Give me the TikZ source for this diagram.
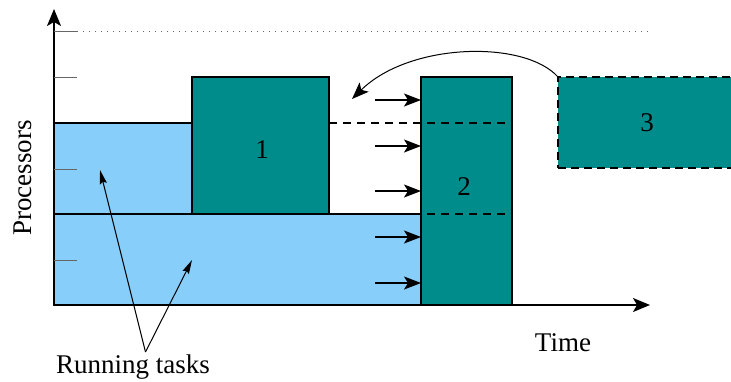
\documentclass[tikz,border=0pt]{standalone}
\usepackage{fontspec}
\setmainfont{Liberation Serif}
\usetikzlibrary{arrows.meta}
\definecolor{tealbox}{RGB}{0,140,138}
\definecolor{runblue}{RGB}{135,206,250}
\begin{document}
\begin{tikzpicture}[x=1pt,y=-1pt, font=\fontsize{27}{32}\selectfont,
  box/.style={draw, line width=1.2pt, fill=tealbox, inner sep=0pt, outer sep=0pt, anchor=north west},
  run/.style={draw, line width=1.2pt, fill=runblue, inner sep=0pt, outer sep=0pt, anchor=north west},
  axisarrow/.style={line width=1.5pt, -{Stealth[length=17pt,width=14pt,inset=4pt]}},
  push/.style={line width=1.2pt, -{Stealth[length=17pt,width=13pt,inset=4pt]}},
  ptr/.style={line width=1pt, -{Stealth[length=14pt,width=7pt,inset=2pt]}},
  tickmark/.style={black!60, line width=1pt},
  levelline/.style={line width=1.2pt, dash pattern=on 8pt off 6pt},
  toplevel/.style={black!60, line width=1pt, dash pattern=on 1.2pt off 4.8pt}]
\useasboundingbox (0,0) rectangle (731,381);
\clip (0,0) rectangle (731,381);
% running tasks
\node[run, minimum width=138pt, minimum height=91pt] (r1) at (54,123) {};
\node[run, minimum width=367pt, minimum height=91pt] (r2) at (54,214) {};
% tasks
\node[box, minimum width=137pt, minimum height=137pt] (t1) at (192,77) {};
\node[box, minimum width=91pt, minimum height=228pt] (t2) at (421,77) {};
\node[box, dash pattern=on 8pt off 5pt, minimum width=190pt, minimum height=91pt] (t3) at (558,77) {};
\node (n1) at (262,150) {1};
\node (n2) at (464,187) {2};
\node (n3) at (647,123) {3};
% level lines
\draw[levelline] (t1.north east |- r1.north) -- (t2.north east |- r1.north);
\draw[levelline] (t1.south east) -- (t2.north east |- t1.south east);
% push arrows
\foreach \yy/\nm in {100/a,146/b,191/c,237/d,283/e}{
  \coordinate (s\nm) at (375,\yy);
  \draw[push] (s\nm) -- (t2.west |- s\nm);
}
% axes
\coordinate (o) at (54,305);
\coordinate (ytop) at (54,9);
\coordinate (xend) at (650,305);
\draw[axisarrow] (o) -- (ytop);
\draw[axisarrow] (o) -- (xend);
\foreach \yy in {31,77,169,260}{
  \draw[tickmark] (54,\yy) -- (77,\yy);
}
\coordinate (dl) at (77,31);
\coordinate (dr) at (650,31);
\draw[toplevel] (dl) -- (dr);
% move arrow
\coordinate (mv) at (352,99);
\draw[line width=1pt, -{Stealth[length=17pt,width=13pt,inset=4pt]}] (t3.north west) .. controls (525,40) and (410,42) .. (mv);
% labels
\node[rotate=90] (ylab) at (23,178) {Processors};
\node (xlab) at (563,343) {Time};
\node (rt) at (133,367) {Running tasks};
\coordinate (apex) at (145.5,352);
\coordinate (p1) at (100,170);
\coordinate (p2) at (192,260);
\draw[ptr] (apex) -- (p1);
\draw[ptr] (apex) -- (p2);
\end{tikzpicture}
\end{document}
